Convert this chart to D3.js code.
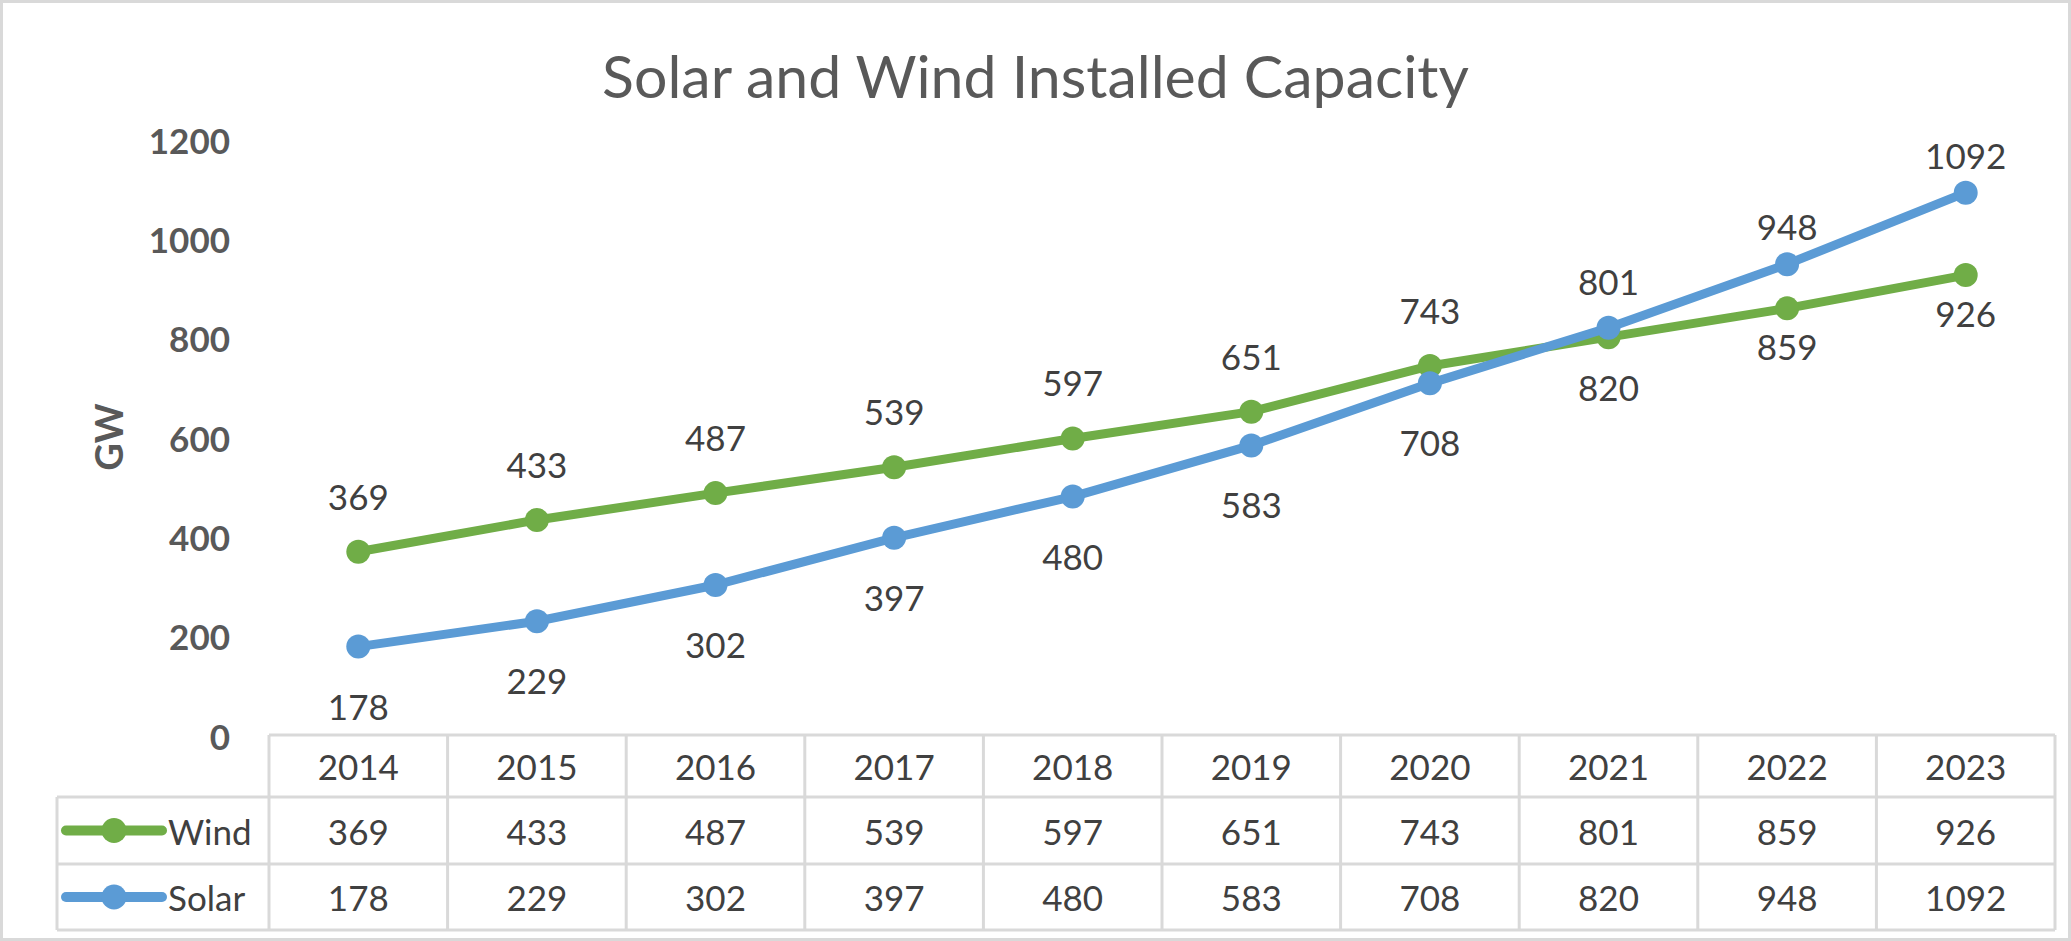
<!DOCTYPE html>
<html>
<head>
<meta charset="utf-8">
<script src="https://cdn.jsdelivr.net/npm/d3@7"></script>
<style>
  html, body { margin: 0; padding: 0; background: #fff; }
  svg { display: block; font-family: Lato, "Noto Sans", sans-serif; }
</style>
</head>
<body>
<div id="chart"></div>
<script>
// Datos
const years = ["2014", "2015", "2016", "2017", "2018", "2019", "2020", "2021", "2022", "2023"];
const wind  = [369, 433, 487, 539, 597, 651, 743, 801, 859, 926];
const solar = [178, 229, 302, 397, 480, 583, 708, 820, 948, 1092];
const yTicks = [0, 200, 400, 600, 800, 1000, 1200];

const series = [
  {name: "Wind",  values: wind,  color: "#70AD47"},
  {name: "Solar", values: solar, color: "#5B9BD5"},
];

const width = 2071, height = 941;
const grid = "#d9d9d9";

const svg = d3.select("#chart").append("svg")
  .attr("width", width)
  .attr("height", height)
  .attr("viewBox", [0, 0, width, height]);

// Marco exterior
svg.append("rect")
  .attr("x", 1.5).attr("y", 1.5)
  .attr("width", width - 3).attr("height", height - 3)
  .attr("fill", "#fff")
  .attr("stroke", grid)
  .attr("stroke-width", 3);

// Escalas
const x = d3.scaleBand().domain(years).range([269, 2055]);
const y = d3.scaleLinear().domain([0, 1200]).range([735, 139]);
const cx = d => x(d) + x.bandwidth() / 2;

// Título
svg.append("text")
  .attr("x", width / 2)
  .attr("y", 98)
  .attr("text-anchor", "middle")
  .attr("font-size", 59)
  .attr("fill", "#595959")
  .text("Solar and Wind Installed Capacity");

// Eje Y
const yAxis = svg.append("g")
  .attr("transform", "translate(230,0)")
  .call(d3.axisLeft(y).tickValues(yTicks).tickFormat(d3.format("d")).tickSize(0).tickPadding(0));
yAxis.select(".domain").remove();
yAxis.selectAll("text")
  .attr("font-family", "Lato, 'Noto Sans', sans-serif")
  .attr("font-size", 35)
  .attr("font-weight", "bold")
  .attr("fill", "#595959")
  .attr("dy", null)
  .attr("dominant-baseline", "central");

svg.append("text")
  .attr("transform", `translate(108,${(y(0) + y(1200)) / 2}) rotate(-90)`)
  .attr("text-anchor", "middle")
  .attr("dominant-baseline", "central")
  .attr("font-size", 38)
  .attr("font-weight", "bold")
  .attr("fill", "#595959")
  .text("GW");

// Líneas y marcadores
const line = d3.line()
  .x((d, i) => cx(years[i]))
  .y(d => y(d));

series.forEach(s => {
  const g = svg.append("g");
  g.append("path")
    .attr("d", line(s.values))
    .attr("fill", "none")
    .attr("stroke", s.color)
    .attr("stroke-width", 9)
    .attr("stroke-linejoin", "round");
  g.selectAll("circle")
    .data(s.values)
    .join("circle")
    .attr("cx", (d, i) => cx(years[i]))
    .attr("cy", d => y(d))
    .attr("r", 12)
    .attr("fill", s.color);
});

// Etiquetas: la serie que queda claramente por encima lleva la etiqueta arriba
years.forEach((yr, i) => {
  const swapped = solar[i] - wind[i] > 50;
  const items = [
    {v: wind[i],  above: !swapped},
    {v: solar[i], above: swapped},
  ];
  items.forEach(it => {
    const off = swapped ? 38 : (it.above ? 56 : 59);
    svg.append("text")
      .attr("x", cx(yr))
      .attr("y", y(it.v) + (it.above ? -off : off))
      .attr("text-anchor", "middle")
      .attr("dominant-baseline", "central")
      .attr("font-size", 35)
      .attr("fill", "#404040")
      .text(it.v);
  });
});

// Tabla de datos
const rowTop = [735, 797, 864, 930];
const tableLeft = 57, tableRight = 2055, dataLeft = 269;
const table = svg.append("g")
  .attr("stroke", grid)
  .attr("stroke-width", 3)
  .attr("fill", "none");

table.append("line").attr("x1", dataLeft).attr("x2", tableRight).attr("y1", rowTop[0]).attr("y2", rowTop[0]);
rowTop.slice(1).forEach(ry => {
  table.append("line").attr("x1", tableLeft).attr("x2", tableRight).attr("y1", ry).attr("y2", ry);
});
table.append("line").attr("x1", tableLeft).attr("x2", tableLeft).attr("y1", rowTop[1]).attr("y2", rowTop[3]);
years.concat([null]).forEach((yr, i) => {
  const lx = dataLeft + i * x.bandwidth();
  table.append("line").attr("x1", lx).attr("x2", lx).attr("y1", rowTop[0]).attr("y2", rowTop[3]);
});

const cellText = (tx, ty, t, anchor = "middle") => svg.append("text")
  .attr("x", tx).attr("y", ty)
  .attr("text-anchor", anchor)
  .attr("dominant-baseline", "central")
  .attr("font-size", 35)
  .attr("fill", "#404040")
  .text(t);

years.forEach(yr => cellText(cx(yr), (rowTop[0] + rowTop[1]) / 2, yr));

series.forEach((s, r) => {
  const ry = (rowTop[r + 1] + rowTop[r + 2]) / 2;
  s.values.forEach((v, i) => cellText(cx(years[i]), ry, v));
  // Clave de leyenda
  svg.append("line")
    .attr("x1", 66).attr("x2", 162)
    .attr("y1", ry).attr("y2", ry)
    .attr("stroke", s.color)
    .attr("stroke-width", 10)
    .attr("stroke-linecap", "round");
  svg.append("circle")
    .attr("cx", 114).attr("cy", ry)
    .attr("r", 12.5)
    .attr("fill", s.color);
  cellText(168, ry, s.name, "start");
});
</script>
</body>
</html>
